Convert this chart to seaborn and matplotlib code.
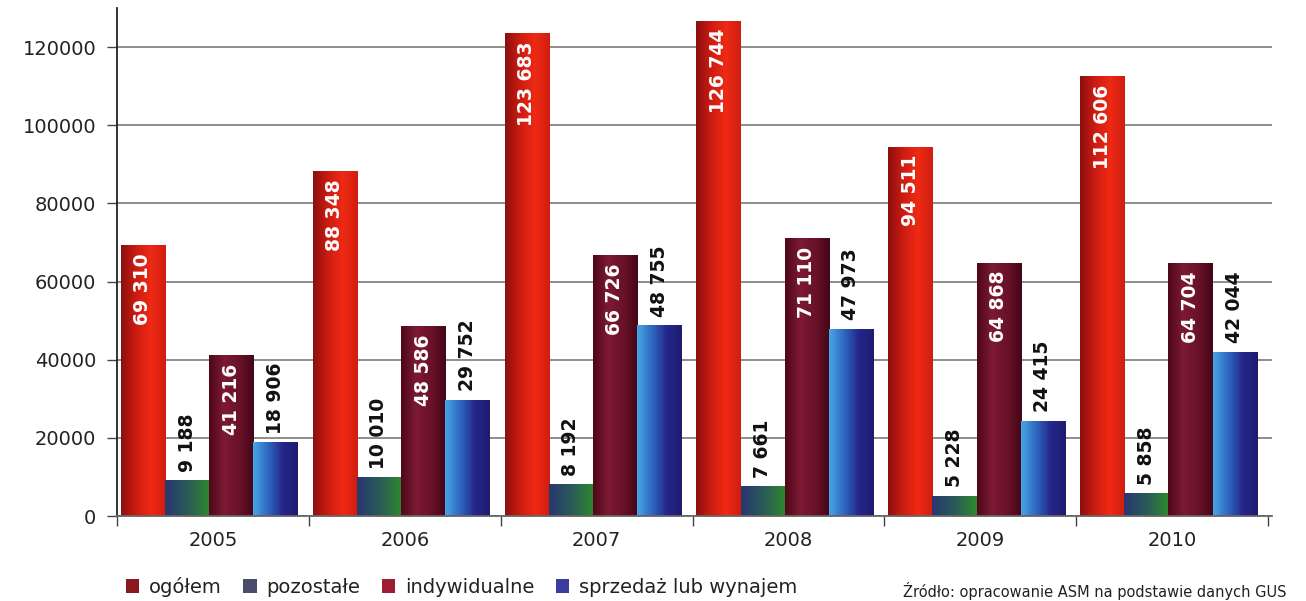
import numpy as np
import pandas as pd
import matplotlib
matplotlib.use("Agg")
import matplotlib.pyplot as plt
from matplotlib.colors import LinearSegmentedColormap
from matplotlib.patches import Patch
from matplotlib.ticker import MultipleLocator, FixedLocator
import seaborn as sns

# Dwellings completed by investor type
years = ["2005", "2006", "2007", "2008", "2009", "2010"]
series = ["ogółem", "pozostałe", "indywidualne", "sprzedaż lub wynajem"]
ogolem = [69310, 88348, 123683, 126744, 94511, 112606]
pozostale = [9188, 10010, 8192, 7661, 5228, 5858]
indywidualne = [41216, 48586, 66726, 71110, 64868, 64704]
sprzedaz = [18906, 29752, 48755, 47973, 24415, 42044]
source_note = "Źródło: opracowanie ASM na podstawie danych GUS"

values = {
    "ogółem": ogolem,
    "pozostałe": pozostale,
    "indywidualne": indywidualne,
    "sprzedaż lub wynajem": sprzedaz,
}
df = pd.DataFrame(
    [(y, s, values[s][i]) for s in series for i, y in enumerate(years)],
    columns=["rok", "seria", "liczba"],
)

# horizontal gradient stops per series (left -> right)
gradients = {
    "ogółem": ["#8a0f0f", "#cc1c12", "#ee2a14", "#d01c10"],
    "pozostałe": ["#283670", "#2a5a5a", "#2e8a2c"],
    "indywidualne": ["#4e0818", "#7c1a32", "#6a1228", "#45061a"],
    "sprzedaż lub wynajem": ["#44a8e6", "#3068c0", "#25268a", "#1e1c70"],
}
legend_colors = {
    "ogółem": "#8a1a1e",
    "pozostałe": "#4a4c6e",
    "indywidualne": "#a01c34",
    "sprzedaż lub wynajem": "#3a3c9e",
}
label_inside = {"ogółem": True, "pozostałe": False,
                "indywidualne": True, "sprzedaż lub wynajem": False}

sns.set_theme(style="white")
plt.rcParams["font.family"] = ["DejaVu Sans"]

fig = plt.figure(figsize=(13.06, 6.01), dpi=100)
ax = fig.add_axes([117 / 1306, 85 / 601, 1155 / 1306, 508 / 601])

sns.barplot(data=df, x="rok", y="liczba", hue="seria", hue_order=series,
            order=years, palette=[gradients[s][1] for s in series],
            width=0.92, gap=0, saturation=1, legend=False, ax=ax,
            linewidth=0, zorder=2)

ax.set_xlim(-0.48, 5.54)
ax.set_ylim(0, 130000)
ax.autoscale(False)

for s, cont in zip(series, ax.containers):
    cmap = LinearSegmentedColormap.from_list(s, gradients[s])
    grad = np.linspace(0, 1, 256).reshape(1, -1)
    for bar, val in zip(cont.patches, values[s]):
        x0, y0 = bar.get_x(), bar.get_y()
        w, h = bar.get_width(), bar.get_height()
        im = ax.imshow(grad, cmap=cmap, aspect="auto", interpolation="bilinear",
                       extent=[x0, x0 + w, y0, y0 + h], zorder=2.1)
        im.set_clip_path(bar)
        label = f"{val:,}".replace(",", " ")
        inside = label_inside[s]
        ax.annotate(label, (x0 + w / 2, val),
                    xytext=(0, -6 if inside else 6), textcoords="offset points",
                    rotation=90, ha="center", va="top" if inside else "bottom",
                    fontsize=13.5, fontweight="bold",
                    color="white" if inside else "#111111", zorder=4)

# axes styling
ax.yaxis.set_major_locator(MultipleLocator(20000))
ax.grid(axis="y", color="#858585", linewidth=1.3, zorder=0)
ax.set_axisbelow(True)
for side in ["top", "right"]:
    ax.spines[side].set_visible(False)
ax.spines["left"].set_color("#222222")
ax.spines["left"].set_linewidth(1.3)
ax.spines["bottom"].set_color("#666666")
ax.spines["bottom"].set_linewidth(1.3)

ax.tick_params(axis="y", which="major", direction="out", length=7, width=1,
               color="#444444", labelsize=14, labelcolor="#222222", pad=8, left=True)
ax.set_xticks(np.arange(len(years)) + 0.02, labels=years)
ax.tick_params(axis="x", which="major", length=0, labelsize=14,
               labelcolor="#222222", pad=11)
ax.xaxis.set_minor_locator(FixedLocator(np.arange(-0.48, 6.0, 1.0)))
ax.tick_params(axis="x", which="minor", direction="out", length=7, width=1,
               color="#444444", bottom=True)
ax.set_xlabel("")
ax.set_ylabel("")

handles = [Patch(facecolor=legend_colors[s], edgecolor="none", label=s) for s in series]
fig.legend(handles=handles, loc="center left", bbox_to_anchor=(108 / 1306, 1 - 587 / 601),
           ncol=4, frameon=False, fontsize=14, handlelength=0.7, handleheight=0.7,
           handletextpad=0.5, columnspacing=1.1, labelcolor="#222222")

fig.text(903 / 1306, 1 - 591 / 601, source_note, fontsize=10.5,
         color="#222222", va="center", ha="left")

fig.savefig("out.png", dpi=100, facecolor="white")
